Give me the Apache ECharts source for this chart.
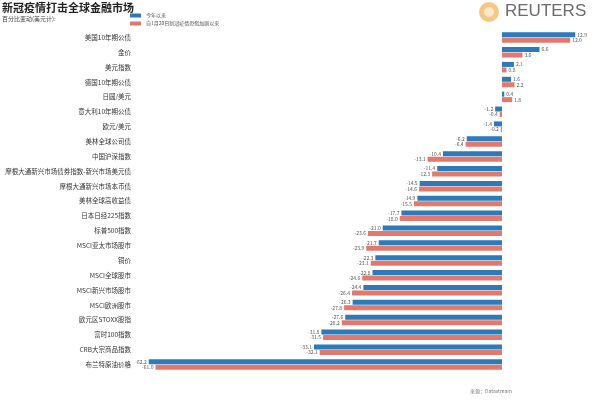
<!DOCTYPE html>
<html><head><meta charset="utf-8">
<script src="https://cdn.jsdelivr.net/npm/echarts@6/dist/echarts.min.js"></script>
<style>html,body{margin:0;padding:0;background:#fff}#c{width:600px;height:400px}</style>
</head><body><div id="c"></div>
<script>
const categories = ["美国10年期公债","金价","美元指数","德国10年期公债","日圆/美元","意大利10年期公债","欧元/美元","美林全球公司债","中国沪深指数","摩根大通新兴市场债券指数-新兴市场美元债","摩根大通新兴市场本币债","美林全球高收益债","日本日经225指数","标普500指数","MSCI亚太市场股市","铜价","MSCI全球股市","MSCI新兴市场股市","MSCI欧洲股市","欧元区STOXX股指","富时100指数","CRB大宗商品指数","布兰特原油价格"];
const ytd = [12.9,6.6,2.1,1.6,0.4,-1.2,-1.4,-6.2,-10.4,-11.4,-14.5,-14.9,-17.7,-21.0,-21.7,-22.3,-22.8,-24.4,-26.3,-27.6,-31.8,-33.1,-62.2];
const sinceJan20 = [12.0,3.6,0.8,2.2,1.8,-0.4,-0.2,-6.4,-13.1,-12.3,-14.6,-15.5,-18.0,-23.6,-23.9,-23.1,-24.6,-26.4,-27.8,-28.2,-31.5,-32.1,-61.0];
const seriesNames = ["今年以来","自1月20日新冠疫情恐慌加剧以来"];
const colors = ["#2b7bba","#e2796f"];

function toData(arr){
  return arr.map(v => ({value: v, label: {position: v >= 0 ? 'right' : 'left'}}));
}
const lbl = {show:true, fontSize:5, color:'#555', distance:2, formatter: p => p.value.toFixed(1), fontFamily:'Noto Sans CJK SC'};
const chart = echarts.init(document.getElementById('c'));
chart.setOption({
  animation:false,
  textStyle:{fontFamily:'"Noto Sans CJK SC", sans-serif'},
  title:[
    {text:'新冠疫情打击全球金融市场', left:2, top:2, padding:0, textStyle:{fontSize:11, fontWeight:'bold', color:'#222'}},
    {text:'百分比变动(美元计):', left:2, top:16, padding:0, textStyle:{fontSize:6, fontWeight:'normal', color:'#444'}},
    {text:'来源：Datastream', left:470, top:389, padding:0, textStyle:{fontSize:5, fontWeight:'normal', color:'#777'}}
  ],
  legend:{orient:'vertical', left:130, top:13, padding:0, itemWidth:11, itemHeight:4, itemGap:3,
    textStyle:{fontSize:5, color:'#555'}, icon:'rect', data:seriesNames},
  grid:{left:147, right:18.5, top:30, height:342},
  xAxis:{type:'value', min:-62.5, max:14, show:false, splitLine:{show:false}},
  yAxis:{type:'category', data:categories, inverse:true,
    axisLine:{show:false}, axisTick:{show:false},
    axisLabel:{fontSize:6.5, color:'#333', margin:16, interval:0}},
  series:[
    {name:seriesNames[0], type:'bar', data:toData(ytd), barWidth:5, barGap:'10%', itemStyle:{color:colors[0]}, label:lbl},
    {name:seriesNames[1], type:'bar', data:toData(sinceJan20), barWidth:5, barGap:'10%', itemStyle:{color:colors[1]}, label:lbl}
  ],
  graphic:[
    {type:'circle', shape:{cx:489, cy:12, r:10}, style:{fill:'#f3b55a', opacity:0.75}},
    {type:'circle', shape:{cx:489, cy:12, r:5}, style:{fill:'#fff', opacity:0.6}},
    {type:'text', left:505, top:3, style:{text:'REUTERS', font:'17px "Liberation Sans", sans-serif', fill:'#6b6b6b'}}
  ]
});
</script></body></html>
